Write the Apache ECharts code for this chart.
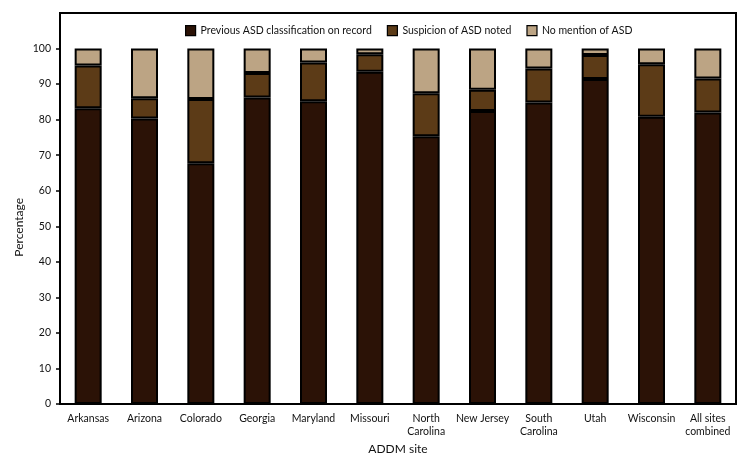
<!DOCTYPE html>
<html><head><meta charset="utf-8">
<script src="https://cdn.jsdelivr.net/npm/echarts@6/dist/echarts.min.js"></script>
<style>html,body{margin:0;padding:0;background:#fff}#c{width:750px;height:469px}</style>
</head><body><div id="c"></div>
<script>
var categories = ['Arkansas','Arizona','Colorado','Georgia','Maryland','Missouri','North\nCarolina','New Jersey','South\nCarolina','Utah','Wisconsin','All sites\ncombined'];
var previousASD = [83.2, 80.3, 67.7, 86.2, 85.2, 93.5, 75.3, 82.4, 84.8, 91.4, 80.8, 82.0];
var suspicionASD = [12.0, 5.7, 18.1, 6.9, 10.9, 4.9, 12.1, 6.0, 9.6, 6.8, 14.8, 9.6];
var noMentionASD = [4.8, 14.0, 14.2, 6.9, 3.9, 1.6, 12.6, 11.6, 5.6, 1.8, 4.4, 8.4];
var yTicks = [0,10,20,30,40,50,60,70,80,90,100];

var FONT = 'Lato, "Open Sans", sans-serif';
var chart = echarts.init(document.getElementById('c'), null, {renderer:'canvas'});
function ser(name, data, color){
  return {name:name, type:'bar', stack:'t', data:data, barWidth:27,
    itemStyle:{color:color, borderColor:'#000', borderWidth:2}, emphasis:{disabled:true}};
}
chart.setOption({
  animation:false,
  textStyle:{fontFamily:FONT},
  grid:{left:60, right:14, top:13, bottom:65, show:true, borderColor:'#000', borderWidth:2, backgroundColor:'#fff'},
  legend:{top:20, left:180, itemWidth:10, itemHeight:10, itemGap:15, itemTextGap:4, icon:'rect',
    textStyle:{fontFamily:FONT, fontSize:10.5, color:'#111'},
    itemStyle:{borderColor:'#000', borderWidth:1.2}},
  xAxis:{type:'category', data:categories, name:'ADDM site', nameLocation:'middle', nameGap:37,
    nameTextStyle:{fontFamily:FONT, fontSize:12, color:'#111'},
    axisLine:{lineStyle:{color:'#000', width:2}},
    axisTick:{alignWithLabel:true, length:4, lineStyle:{color:'#000', width:1.5}},
    axisLabel:{fontFamily:FONT, fontSize:10.5, color:'#111', margin:8, lineHeight:13, interval:0}},
  yAxis:{type:'value', min:0, max:110, interval:10,
    axisLine:{show:true, lineStyle:{color:'#000', width:2}},
    axisTick:{show:true, length:4, customValues:yTicks, lineStyle:{color:'#000', width:1.5}},
    axisLabel:{fontFamily:FONT, fontSize:10.5, color:'#111', margin:9, customValues:yTicks},
    splitLine:{show:false}},
  graphic:[{type:'text', left:13, top:198, rotation:Math.PI/2,
    style:{text:'Percentage', font:'12px '+FONT, fill:'#111'}}],
  series:[
    ser('Previous ASD classification on record', previousASD, '#2b1206'),
    ser('Suspicion of ASD noted', suspicionASD, '#5c3b17'),
    ser('No mention of ASD', noMentionASD, '#bca484')
  ]
});
</script></body></html>
